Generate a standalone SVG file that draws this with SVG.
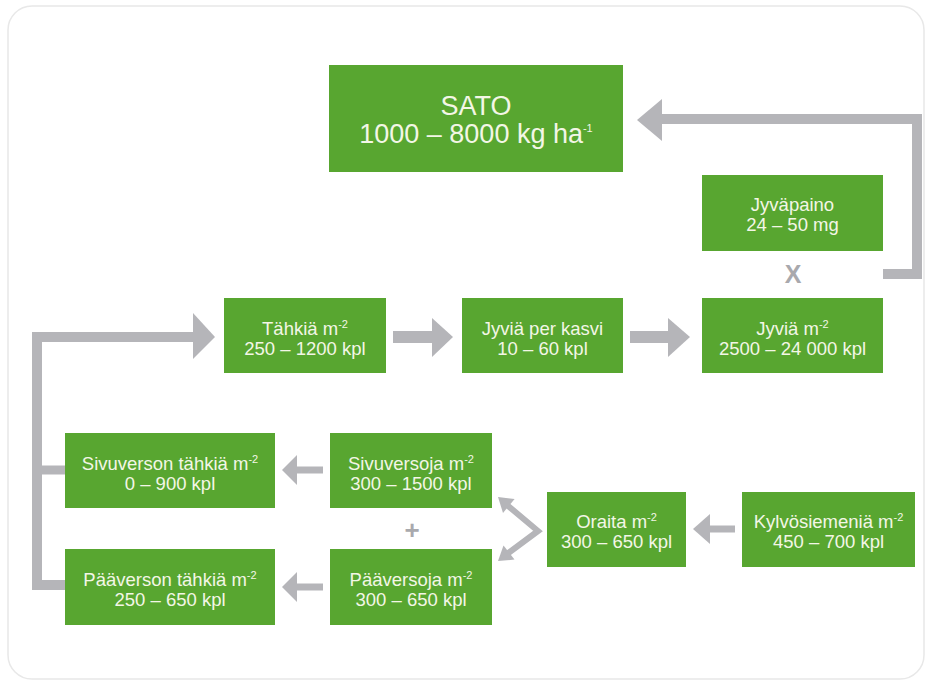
<svg xmlns="http://www.w3.org/2000/svg" width="930" height="684" viewBox="0 0 930 684">
<style>
.box{fill:#58a630}
.t{font-family:"Liberation Sans",Arial,sans-serif;font-size:18.5px;fill:#f3f6e6;text-anchor:middle}
.big{font-size:27px}
.sup{font-size:11px}
.bar{fill:none;stroke:#b5b5b9;stroke-linejoin:miter}
.head{fill:#b5b5b9}
.op{font-family:"Liberation Sans",Arial,sans-serif;font-weight:bold;fill:#a9a9ad;text-anchor:middle}
</style>
<rect x="0" y="0" width="930" height="684" fill="#ffffff"/>
<rect x="8" y="6" width="916" height="673" rx="24" fill="#ffffff" stroke="#e8e8e8" stroke-width="1.5"/>

<g id="connectors">
  <polyline class="bar" stroke-width="10" points="883,274 917,274 917,119 661,119"/>
  <polygon class="head" points="662,99 637,120 662,141"/>
  <polyline class="bar" stroke-width="10" points="37,590 37,337 194,337"/>
  <polyline class="bar" stroke-width="9" points="37,470 65,470"/>
  <polyline class="bar" stroke-width="10" points="37,585 65,585"/>
  <polygon class="head" points="193,313 215,337 193,359"/>
  <line class="bar" stroke-width="12" x1="393" y1="337" x2="433" y2="337"/>
  <polygon class="head" points="432,318 453,337 432,357"/>
  <line class="bar" stroke-width="12" x1="630" y1="337" x2="669" y2="337"/>
  <polygon class="head" points="668,318 690,337 668,357"/>
  <line class="bar" stroke-width="7" x1="323" y1="470" x2="296" y2="470"/>
  <polygon class="head" points="297,455 282,470 297,485"/>
  <line class="bar" stroke-width="7" x1="323" y1="587" x2="296" y2="587"/>
  <polygon class="head" points="297,572 282,587 297,602"/>
  <line class="bar" stroke-width="7" x1="735" y1="529" x2="709" y2="529"/>
  <polygon class="head" points="710,514 693,529 710,544"/>
  <polyline class="bar" stroke-width="6" points="507,505 538,531 507,554"/>
  <polygon class="head" points="498,497 514.6,499.1 503,512.9"/>
  <polygon class="head" points="498,561 514.5,559.6 503.5,545.4"/>
  <text class="op" x="793" y="283" font-size="25">X</text>
  <text class="op" x="412" y="539" font-size="26">+</text>
</g>

<g id="sato">
  <rect class="box" x="329" y="65" width="294" height="107"/>
  <text class="t big" x="476" y="115">SATO</text>
  <text class="t big" x="476" y="143">1000 – 8000 kg ha<tspan class="sup" font-size="14" dy="-11">-1</tspan></text>
</g>
<g id="jyvapaino">
  <rect class="box" x="702" y="175" width="181" height="76"/>
  <text class="t" x="792.5" y="211">Jyväpaino</text>
  <text class="t" x="792.5" y="231">24 – 50 mg</text>
</g>
<g id="tahkia">
  <rect class="box" x="224" y="298" width="162" height="75"/>
  <text class="t" x="305" y="335">Tähkiä m<tspan class="sup" dy="-7">-2</tspan></text>
  <text class="t" x="305" y="355">250 – 1200 kpl</text>
</g>
<g id="jyvia-per-kasvi">
  <rect class="box" x="462" y="298" width="161" height="75"/>
  <text class="t" x="542.5" y="335">Jyviä per kasvi</text>
  <text class="t" x="542.5" y="355">10 – 60 kpl</text>
</g>
<g id="jyvia-m2">
  <rect class="box" x="702" y="298" width="181" height="75"/>
  <text class="t" x="792.5" y="335">Jyviä m<tspan class="sup" dy="-7">-2</tspan></text>
  <text class="t" x="792.5" y="355">2500 – 24 000 kpl</text>
</g>
<g id="sivuverson-tahkia">
  <rect class="box" x="65" y="433" width="210" height="75"/>
  <text class="t" x="170" y="469.5">Sivuverson tähkiä m<tspan class="sup" dy="-7">-2</tspan></text>
  <text class="t" x="170" y="489.5">0 – 900 kpl</text>
</g>
<g id="sivuversoja">
  <rect class="box" x="330" y="433" width="162" height="75"/>
  <text class="t" x="411" y="469.5">Sivuversoja m<tspan class="sup" dy="-7">-2</tspan></text>
  <text class="t" x="411" y="489.5">300 – 1500 kpl</text>
</g>
<g id="paaverson-tahkia">
  <rect class="box" x="65" y="549" width="210" height="76"/>
  <text class="t" x="170" y="586">Pääverson tähkiä m<tspan class="sup" dy="-7">-2</tspan></text>
  <text class="t" x="170" y="606">250 – 650 kpl</text>
</g>
<g id="paaversoja">
  <rect class="box" x="330" y="549" width="162" height="76"/>
  <text class="t" x="411" y="586">Pääversoja m<tspan class="sup" dy="-7">-2</tspan></text>
  <text class="t" x="411" y="606">300 – 650 kpl</text>
</g>
<g id="oraita">
  <rect class="box" x="547" y="492" width="139" height="75"/>
  <text class="t" x="616.5" y="528">Oraita m<tspan class="sup" dy="-7">-2</tspan></text>
  <text class="t" x="616.5" y="548">300 – 650 kpl</text>
</g>
<g id="kylvosiemenia">
  <rect class="box" x="742" y="492" width="173" height="75"/>
  <text class="t" x="828.5" y="528">Kylvösiemeniä m<tspan class="sup" dy="-7">-2</tspan></text>
  <text class="t" x="828.5" y="548">450 – 700 kpl</text>
</g>
</svg>
